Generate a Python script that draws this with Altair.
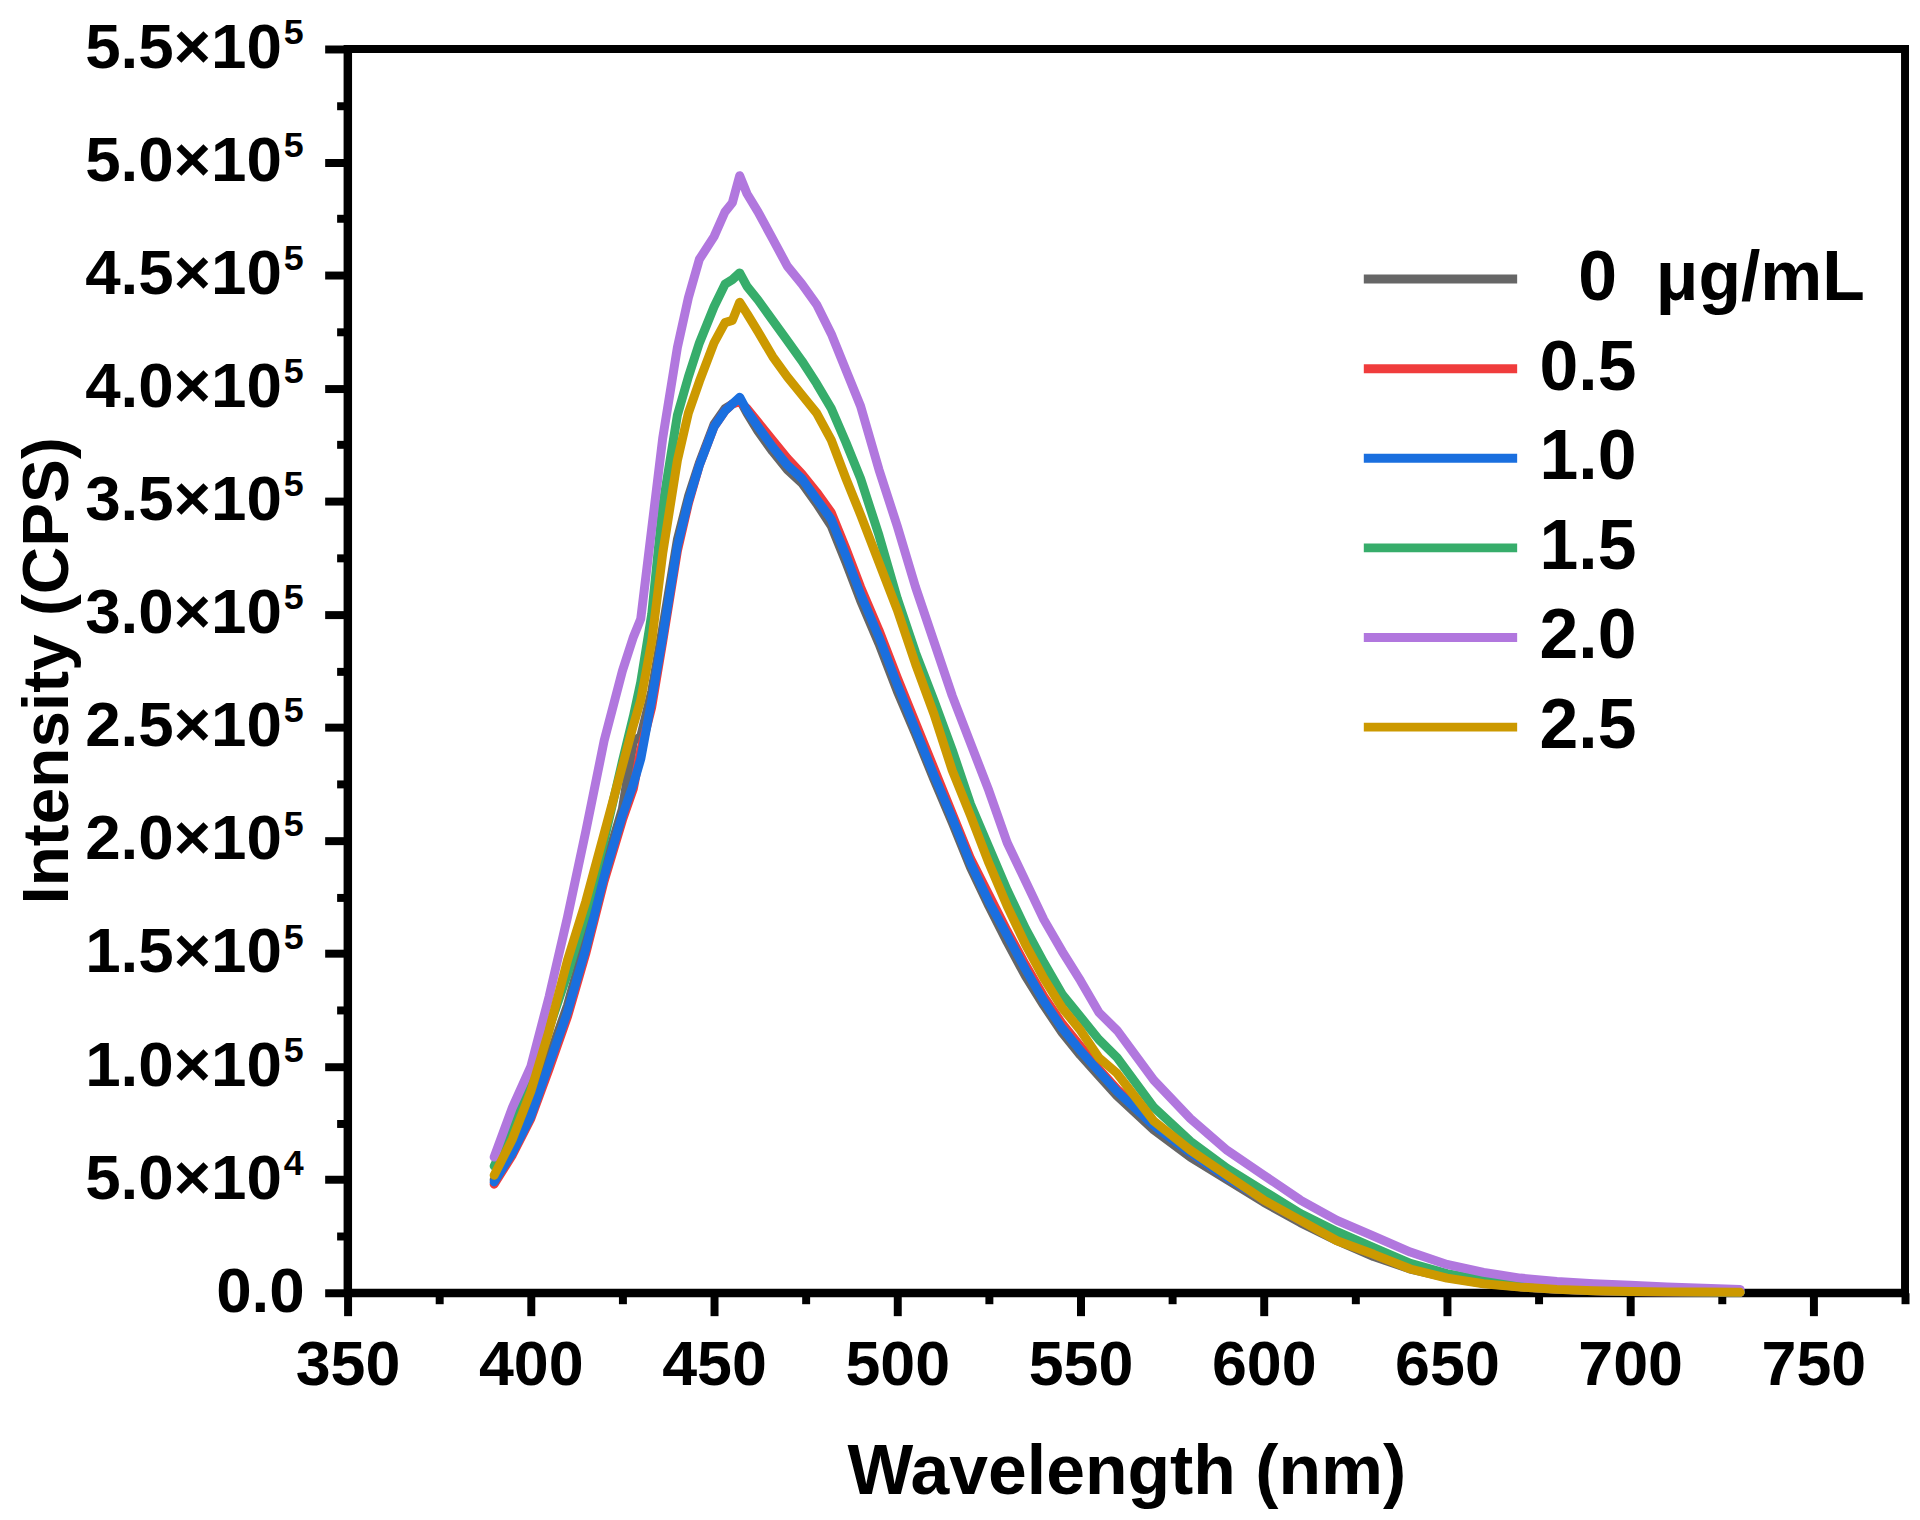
import altair as alt
import pandas as pd

# Wavelength grid (nm)
WAVELENGTH = [390, 395, 400, 405, 410, 415, 420, 425, 428, 430, 433, 436, 440, 443, 446, 450,
              453, 455, 457, 459, 462, 466, 470, 474, 478, 482, 486, 490, 495, 500, 505, 510,
              515, 520, 525, 530, 535, 540, 545, 550, 555, 560, 570, 580, 590, 600, 610, 620,
              630, 640, 650, 660, 670, 680, 690, 700, 710, 720, 730]

# Intensities in thousands of CPS
I_0_0 = [50, 64, 81, 104, 127, 156, 187, 214, 244, 246, 266, 294, 333, 352, 367, 384,
         391, 393, 395, 389, 381, 372, 364, 358, 349, 339, 323, 306, 287, 266, 247, 227,
         208, 188, 171, 155, 140, 127, 115, 105, 96, 87, 72, 60, 50, 40, 31, 23,
         16, 10.5, 6.8, 4.2, 2.6, 1.5, 0.9, 0.6, 0.4, 0.3, 0.2]
I_0_5 = [48, 61, 77, 99, 122, 150, 182, 209, 223, 240, 259, 288, 328, 349, 366, 383,
         390, 393, 394, 391, 385, 377, 369, 362, 354, 345, 329, 312, 293, 272, 252, 232,
         212, 192, 176, 160, 145, 131, 119, 109, 99, 90, 75, 62, 51, 41, 32, 24,
         17, 11, 7, 4.3, 2.7, 1.6, 1.0, 0.6, 0.4, 0.3, 0.2]
I_1_0 = [49, 62, 78, 101, 124, 152, 184, 211, 225, 236, 262, 290, 330, 350, 366, 383,
         390, 393, 396, 390, 383, 374, 366, 360, 351, 342, 326, 309, 290, 269, 249, 229,
         210, 190, 173, 158, 143, 129, 117, 107, 98, 89, 74, 62, 51, 41, 32, 24,
         17, 11, 7, 4.3, 2.7, 1.6, 1.0, 0.6, 0.4, 0.3, 0.2]
I_1_5 = [56, 73, 92, 117, 141, 168, 200, 235, 255, 270, 300, 348, 388, 405, 420, 436,
         446, 448, 451, 445, 439, 430, 421, 412, 402, 391, 376, 360, 335, 307, 283, 262,
         240, 216, 197, 178, 161, 146, 132, 122, 112, 104, 82, 67, 55, 45, 35, 27,
         20, 13, 8.5, 5.5, 3.3, 2, 1.2, 0.8, 0.5, 0.4, 0.3]
I_2_0 = [60, 82, 100, 131, 166, 204, 244, 275, 290, 298, 338, 378, 418, 440, 457, 467,
         478, 482, 494, 486, 478, 466, 454, 446, 437, 424, 408, 392, 364, 339, 312, 288,
         264, 243, 222, 199, 182, 165, 151, 138, 124, 116, 94, 77, 63, 52, 41, 32,
         25, 18, 12.5, 9, 6.5, 5, 4, 3.3, 2.6, 2, 1.5]
I_2_5 = [52, 68, 89, 116, 147, 173, 203, 233, 251, 262, 288, 327, 368, 389, 403, 420,
         429, 430, 438, 433, 425, 414, 405, 397, 389, 377, 360, 344, 323, 302, 278, 256,
         231, 211, 190, 171, 154, 139, 126, 116, 104, 97, 76, 63, 52, 41, 32, 23,
         17, 10.5, 6.5, 4, 2.5, 1.5, 0.9, 0.6, 0.4, 0.3, 0.2]

SERIES = ["\u200d\u00a0\u00a00\u00a0\u00a0\u03bcg/mL", "0.5", "1.0", "1.5", "2.0", "2.5"]
COLORS = ["#666666", "#F03C3C", "#1A6FDF", "#37AD6B", "#B177DE", "#CC9900"]
VALUES = [I_0_0, I_0_5, I_1_0, I_1_5, I_2_0, I_2_5]

X_MAJOR = [350, 400, 450, 500, 550, 600, 650, 700, 750]
X_MINOR = [375, 425, 475, 525, 575, 625, 675, 725, 775]
Y_MAJOR = [0, 50000, 100000, 150000, 200000, 250000, 300000, 350000, 400000, 450000, 500000, 550000]
Y_MINOR = [25000, 75000, 125000, 175000, 225000, 275000, 325000, 375000, 425000, 475000, 525000]
# y tick labels: mantissa and power-of-ten exponent (drawn as superscript)
Y_MANTISSA = ["0.0", "5.0\u00d710", "1.0\u00d710", "1.5\u00d710", "2.0\u00d710", "2.5\u00d710",
              "3.0\u00d710", "3.5\u00d710", "4.0\u00d710", "4.5\u00d710", "5.0\u00d710", "5.5\u00d710"]
Y_EXPONENT = ["", "4", "5", "5", "5", "5", "5", "5", "5", "5", "5", "5"]

rows = []
for name, vals in zip(SERIES, VALUES):
    for w, v in zip(WAVELENGTH, vals):
        rows.append({"wl": w, "intensity": v * 1000.0, "conc": name})
df = pd.DataFrame(rows)
ylab = pd.DataFrame({"v": Y_MAJOR, "mant": Y_MANTISSA, "exp": Y_EXPONENT})

FONT = "Liberation Sans"
xscale = alt.Scale(domain=[350, 775], nice=False, zero=False)
yscale = alt.Scale(domain=[0, 550000], nice=False, zero=False)

lines = alt.Chart(df).mark_line(strokeWidth=9, strokeJoin="round", strokeCap="round").encode(
    x=alt.X("wl:Q", scale=xscale,
            axis=alt.Axis(values=X_MAJOR, format="d", title="Wavelength (nm)", orient="bottom",
                          tickSize=23, labelPadding=19, titlePadding=42)),
    y=alt.Y("intensity:Q", scale=yscale,
            axis=alt.Axis(values=Y_MAJOR, labels=False, title="Intensity (CPS)", orient="left",
                          tickSize=23, titleX=-267, titleY=624, titleAngle=270,
                          titleAlign="center", titleBaseline="bottom", titleFontSize=66)),
    color=alt.Color("conc:N", scale=alt.Scale(domain=SERIES, range=COLORS),
                    legend=alt.Legend(title=None, orient="none", legendX=1016, legendY=186,
                                      symbolType="stroke", symbolSize=23716, symbolStrokeWidth=9,
                                      clipHeight=90, rowPadding=0, padding=0, labelOffset=18,
                                      symbolOffset=0, labelFont=FONT, labelFontSize=70,
                                      labelFontWeight="bold", labelColor="black", labelLimit=0)),
)

minor = alt.Chart(df).mark_point(opacity=0, size=1).encode(
    x=alt.X("wl:Q", scale=xscale,
            axis=alt.Axis(values=X_MINOR, labels=False, title=None, domain=False, orient="bottom",
                          tickSize=11)),
    y=alt.Y("intensity:Q", scale=yscale,
            axis=alt.Axis(values=Y_MINOR, labels=False, title=None, domain=False, orient="left",
                          tickSize=11)),
)

label_base = alt.Chart(ylab)
mant_nonzero = label_base.transform_filter("datum.v > 0").mark_text(
    align="right", baseline="middle", font=FONT, fontSize=64, fontWeight="bold", color="black"
).encode(x=alt.value(-66), y=alt.Y("v:Q", scale=yscale, axis=None), text="mant:N")
mant_zero = label_base.transform_filter("datum.v == 0").mark_text(
    align="right", baseline="middle", font=FONT, fontSize=64, fontWeight="bold", color="black"
).encode(x=alt.value(-43), y=alt.Y("v:Q", scale=yscale, axis=None), text="mant:N")
expo = label_base.transform_filter("datum.v > 0").mark_text(
    align="left", baseline="middle", font=FONT, fontSize=36, fontWeight="bold", color="black", dy=-16
).encode(x=alt.value(-64), y=alt.Y("v:Q", scale=yscale, axis=None), text="exp:N")

chart = alt.layer(lines, minor, mant_nonzero, mant_zero, expo).resolve_axis(
    x="independent", y="independent"
).properties(
    width=1564, height=1249,
    autosize=alt.AutoSizeParams(type="none"),
    padding={"left": 341, "top": 38, "right": 7, "bottom": 217},
).configure_view(
    stroke="black", strokeWidth=8
).configure_axis(
    labelFont=FONT, labelFontSize=63, labelFontWeight="bold", labelColor="black",
    titleFont=FONT, titleFontSize=70, titleFontWeight="bold", titleColor="black",
    domainColor="black", domainWidth=8, tickColor="black", tickWidth=8, grid=False,
    labelFlush=False, labelOverlap=False,
)

chart.save("out.html", embed_options={"renderer": "svg", "actions": False})
